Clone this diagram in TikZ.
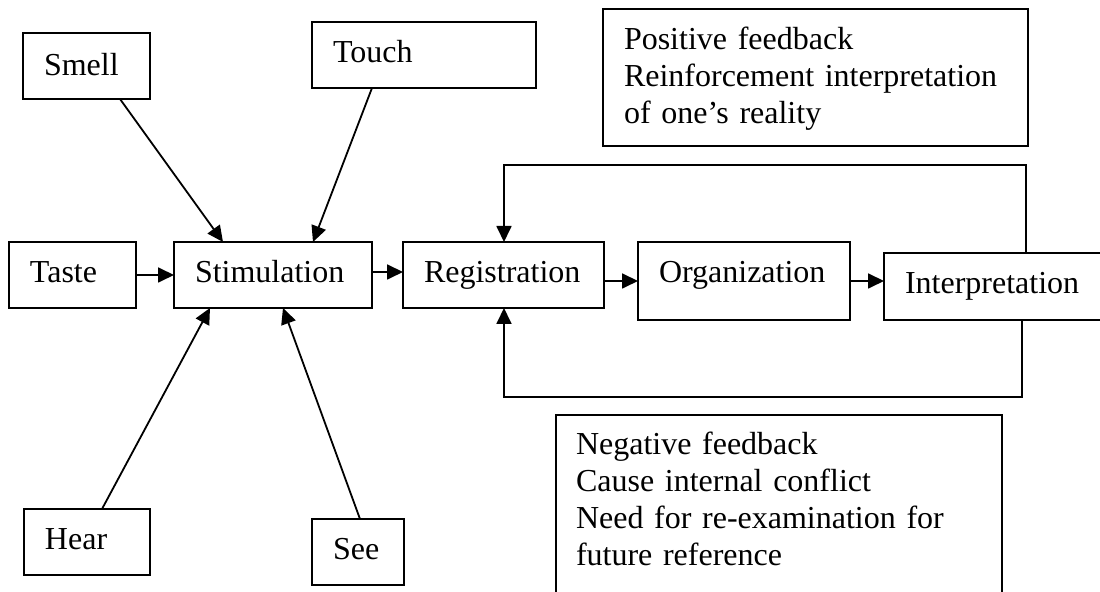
\documentclass[tikz,border=0pt]{standalone}
\usepackage{fontspec}
\setmainfont{Liberation Serif}
\usetikzlibrary{arrows.meta}

\begin{document}
\begin{tikzpicture}[x=0.5pt, y=-0.5pt,
    box/.style={draw, line width=0.65pt, anchor=north west, align=left,
        inner xsep=10.5pt, inner ysep=0pt, outer sep=0pt,
        text height=20.5pt, text depth=12.5pt,
        font=\fontsize{16}{18.5}\selectfont},
    flow/.style={-{Triangle[length=8pt,width=7.5pt]}, line width=0.9pt}]
            \useasboundingbox (0,0) rectangle (1100,592);
            % senses
            \node[box, text width=42.5pt, text height=21.5pt, text depth=11.5pt] (smell) at (23,33) {Smell};
            \node[box, text width=91pt] (touch) at (312,22) {Touch};
            \node[box, text width=42.5pt] (taste) at (9,242) {Taste};
            \node[box, text width=42pt] (hear) at (24,509) {Hear};
            \node[box, text width=25pt] (see) at (312,519) {See};
            % main chain
            \node[box, text width=78pt] (stim) at (174,242) {Stimulation};
            \node[box, text width=79.5pt] (reg) at (403,242) {Registration};
            \node[box, text width=85pt, text depth=18.5pt] (org) at (638,242) {Organization};
            \node[box, text width=99pt, text depth=13pt] (interp) at (884,253) {Interpretation};
            % feedback notes
            \node[box, text width=191.5pt, text depth=48pt] (posfb) at (603,9)
                {Positive feedback\\Reinforcement interpretation\\of one’s reality};
            \node[box, inner xsep=10pt, text width=203pt, text height=20pt, text depth=76pt] (negfb) at (556,415)
                {Negative feedback\\Cause internal conflict\\Need for re-examination for\\future reference};
            \coordinate (posturn) at (1026,165);
            \coordinate (negturn) at (1022,397);
            % arrows into stimulation
            \draw[flow] ([xshift=48.5pt]smell.south west) -- ([xshift=24.5pt]stim.north west);
            \draw[flow] ([xshift=30pt]touch.south west) -- ([xshift=69.5pt]stim.north west);
            \draw[flow] (taste.east) -- (stim.west);
            \draw[flow] ([xshift=39pt]hear.north west) -- ([xshift=18pt]stim.south west);
            \draw[flow] ([xshift=24pt]see.north west) -- ([xshift=54.5pt]stim.south west);
            % chain
            \draw[flow] ([yshift=1.5pt]stim.east) -- ([yshift=1.5pt]reg.west);
            \draw[flow] (reg.east |- org.west) -- (org.west);
            \draw[flow] (org.east) -- (org.east -| interp.west);
            % feedback loops
            \draw[flow] (interp.north west -| posturn) -- (posturn) -| ([xshift=50.5pt]reg.north west);
            \draw[flow] (interp.south west -| negturn) -- (negturn) -| ([xshift=50.5pt]reg.south west);
        \end{tikzpicture}
\end{document}
